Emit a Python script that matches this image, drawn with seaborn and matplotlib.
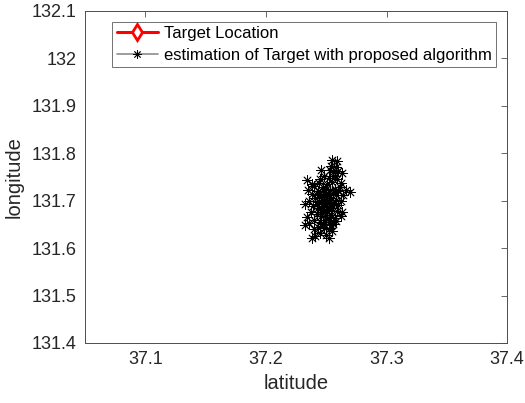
import numpy as np
import pandas as pd
import matplotlib
matplotlib.use('Agg')
import matplotlib.pyplot as plt
from matplotlib.lines import Line2D
import seaborn as sns

# target (true) location
target_lat = [37.250]
target_lon = [131.700]

# estimations of the target location
est_lat = [37.255, 37.259, 37.263, 37.270, 37.232, 37.232, 37.238, 37.263, 37.234, 37.246,
           37.252, 37.248, 37.252, 37.256, 37.258, 37.254, 37.244, 37.240, 37.247, 37.251,
           37.255, 37.259, 37.262, 37.238, 37.243, 37.249, 37.253, 37.257, 37.261, 37.264,
           37.241, 37.246, 37.250, 37.254, 37.258, 37.262, 37.236, 37.244, 37.248, 37.252,
           37.256, 37.260, 37.239, 37.243, 37.247, 37.251, 37.255, 37.259, 37.237, 37.242,
           37.246, 37.250, 37.254, 37.257, 37.240, 37.245, 37.249, 37.253, 37.256, 37.236,
           37.243, 37.248, 37.252, 37.255, 37.245, 37.250, 37.241, 37.248, 37.252, 37.246,
           37.250, 37.254, 37.248, 37.252, 37.246, 37.250, 37.256, 37.250, 37.245, 37.257,
           37.253, 37.260, 37.242, 37.258, 37.244, 37.260, 37.266, 37.235, 37.238, 37.252,
           37.247, 37.254, 37.262, 37.240, 37.234, 37.258]
est_lon = [131.786, 131.784, 131.758, 131.718, 131.693, 131.649, 131.621, 131.676, 131.743, 131.765,
           131.622, 131.752, 131.748, 131.760, 131.770, 131.774, 131.738, 131.730, 131.728, 131.735,
           131.740, 131.745, 131.738, 131.715, 131.720, 131.718, 131.722, 131.725, 131.728, 131.712,
           131.705, 131.708, 131.710, 131.705, 131.712, 131.700, 131.700, 131.698, 131.695, 131.698,
           131.695, 131.690, 131.688, 131.685, 131.682, 131.686, 131.684, 131.678, 131.676, 131.672,
           131.668, 131.674, 131.670, 131.664, 131.660, 131.656, 131.660, 131.655, 131.650, 131.652,
           131.645, 131.642, 131.640, 131.636, 131.632, 131.628, 131.625, 131.718, 131.712, 131.700,
           131.702, 131.692, 131.688, 131.680, 131.676, 131.666, 131.716, 131.725, 131.745, 131.752,
           131.765, 131.762, 131.692, 131.702, 131.712, 131.720, 131.722, 131.722, 131.735, 131.660,
           131.650, 131.648, 131.668, 131.640, 131.665, 131.658]

xticks = [37.1, 37.2, 37.3, 37.4]
yticks = [131.4, 131.5, 131.6, 131.7, 131.8, 131.9, 132.0, 132.1]
yticklabels = ['131.4', '131.5', '131.6', '131.7', '131.8', '131.9', '132', '132.1']

sns.set_style('white')
plt.rcParams['font.family'] = ['Liberation Sans', 'DejaVu Sans']

df_est = pd.DataFrame({'lat': est_lat, 'lon': est_lon})
df_tgt = pd.DataFrame({'lat': target_lat, 'lon': target_lon})

fig = plt.figure(figsize=(5.25, 4.03), dpi=100)
ax = fig.add_axes([0.162, 0.149, 0.804, 0.824])

sns.scatterplot(data=df_tgt, x='lat', y='lon', ax=ax, marker='D', color='red',
                s=40, edgecolor='red', zorder=2, legend=False)
sns.scatterplot(data=df_est, x='lat', y='lon', ax=ax, marker=(8, 2, 0), color='black',
                s=48, linewidth=0.6, zorder=3, legend=False)

ax.set_xlim(37.05, 37.4)
ax.set_ylim(131.4, 132.1)
ax.set_xticks(xticks)
ax.set_xticklabels([str(t) for t in xticks])
ax.set_yticks(yticks)
ax.set_yticklabels(yticklabels)

tc = '#262626'
ax.tick_params(direction='in', length=4, width=0.6, colors='#4d4d4d', labelcolor=tc,
               labelsize=13, top=True, right=True, pad=6)
for sp in ax.spines.values():
    sp.set_visible(True)
    sp.set_color('#4d4d4d')
    sp.set_linewidth(0.7)

ax.set_xlabel('latitude', fontsize=14.5, color=tc, labelpad=4)
ax.set_ylabel('longitude', fontsize=14.5, color=tc, labelpad=6)

handles = [
    Line2D([0], [0], color='red', lw=2.2, marker='d', markersize=8,
           markerfacecolor='white', markeredgecolor='red', markeredgewidth=2),
    Line2D([0], [0], color='#8c8c8c', lw=1.2, marker=(8, 2, 0), markersize=6,
           markeredgecolor='black', markeredgewidth=0.6),
]
leg = ax.legend(handles, ['Target Location', 'estimation of Target with proposed algorithm'],
                loc='upper left', bbox_to_anchor=(0.065, 0.967), fontsize=12,
                frameon=True, fancybox=False, handlelength=2.5, handletextpad=0.35,
                borderpad=0.25, labelspacing=0.4, borderaxespad=0)
leg.get_frame().set_edgecolor('#4d4d4d')
leg.get_frame().set_linewidth(0.7)
for t in leg.get_texts():
    t.set_color('black')

fig.savefig('out.png', dpi=100)
